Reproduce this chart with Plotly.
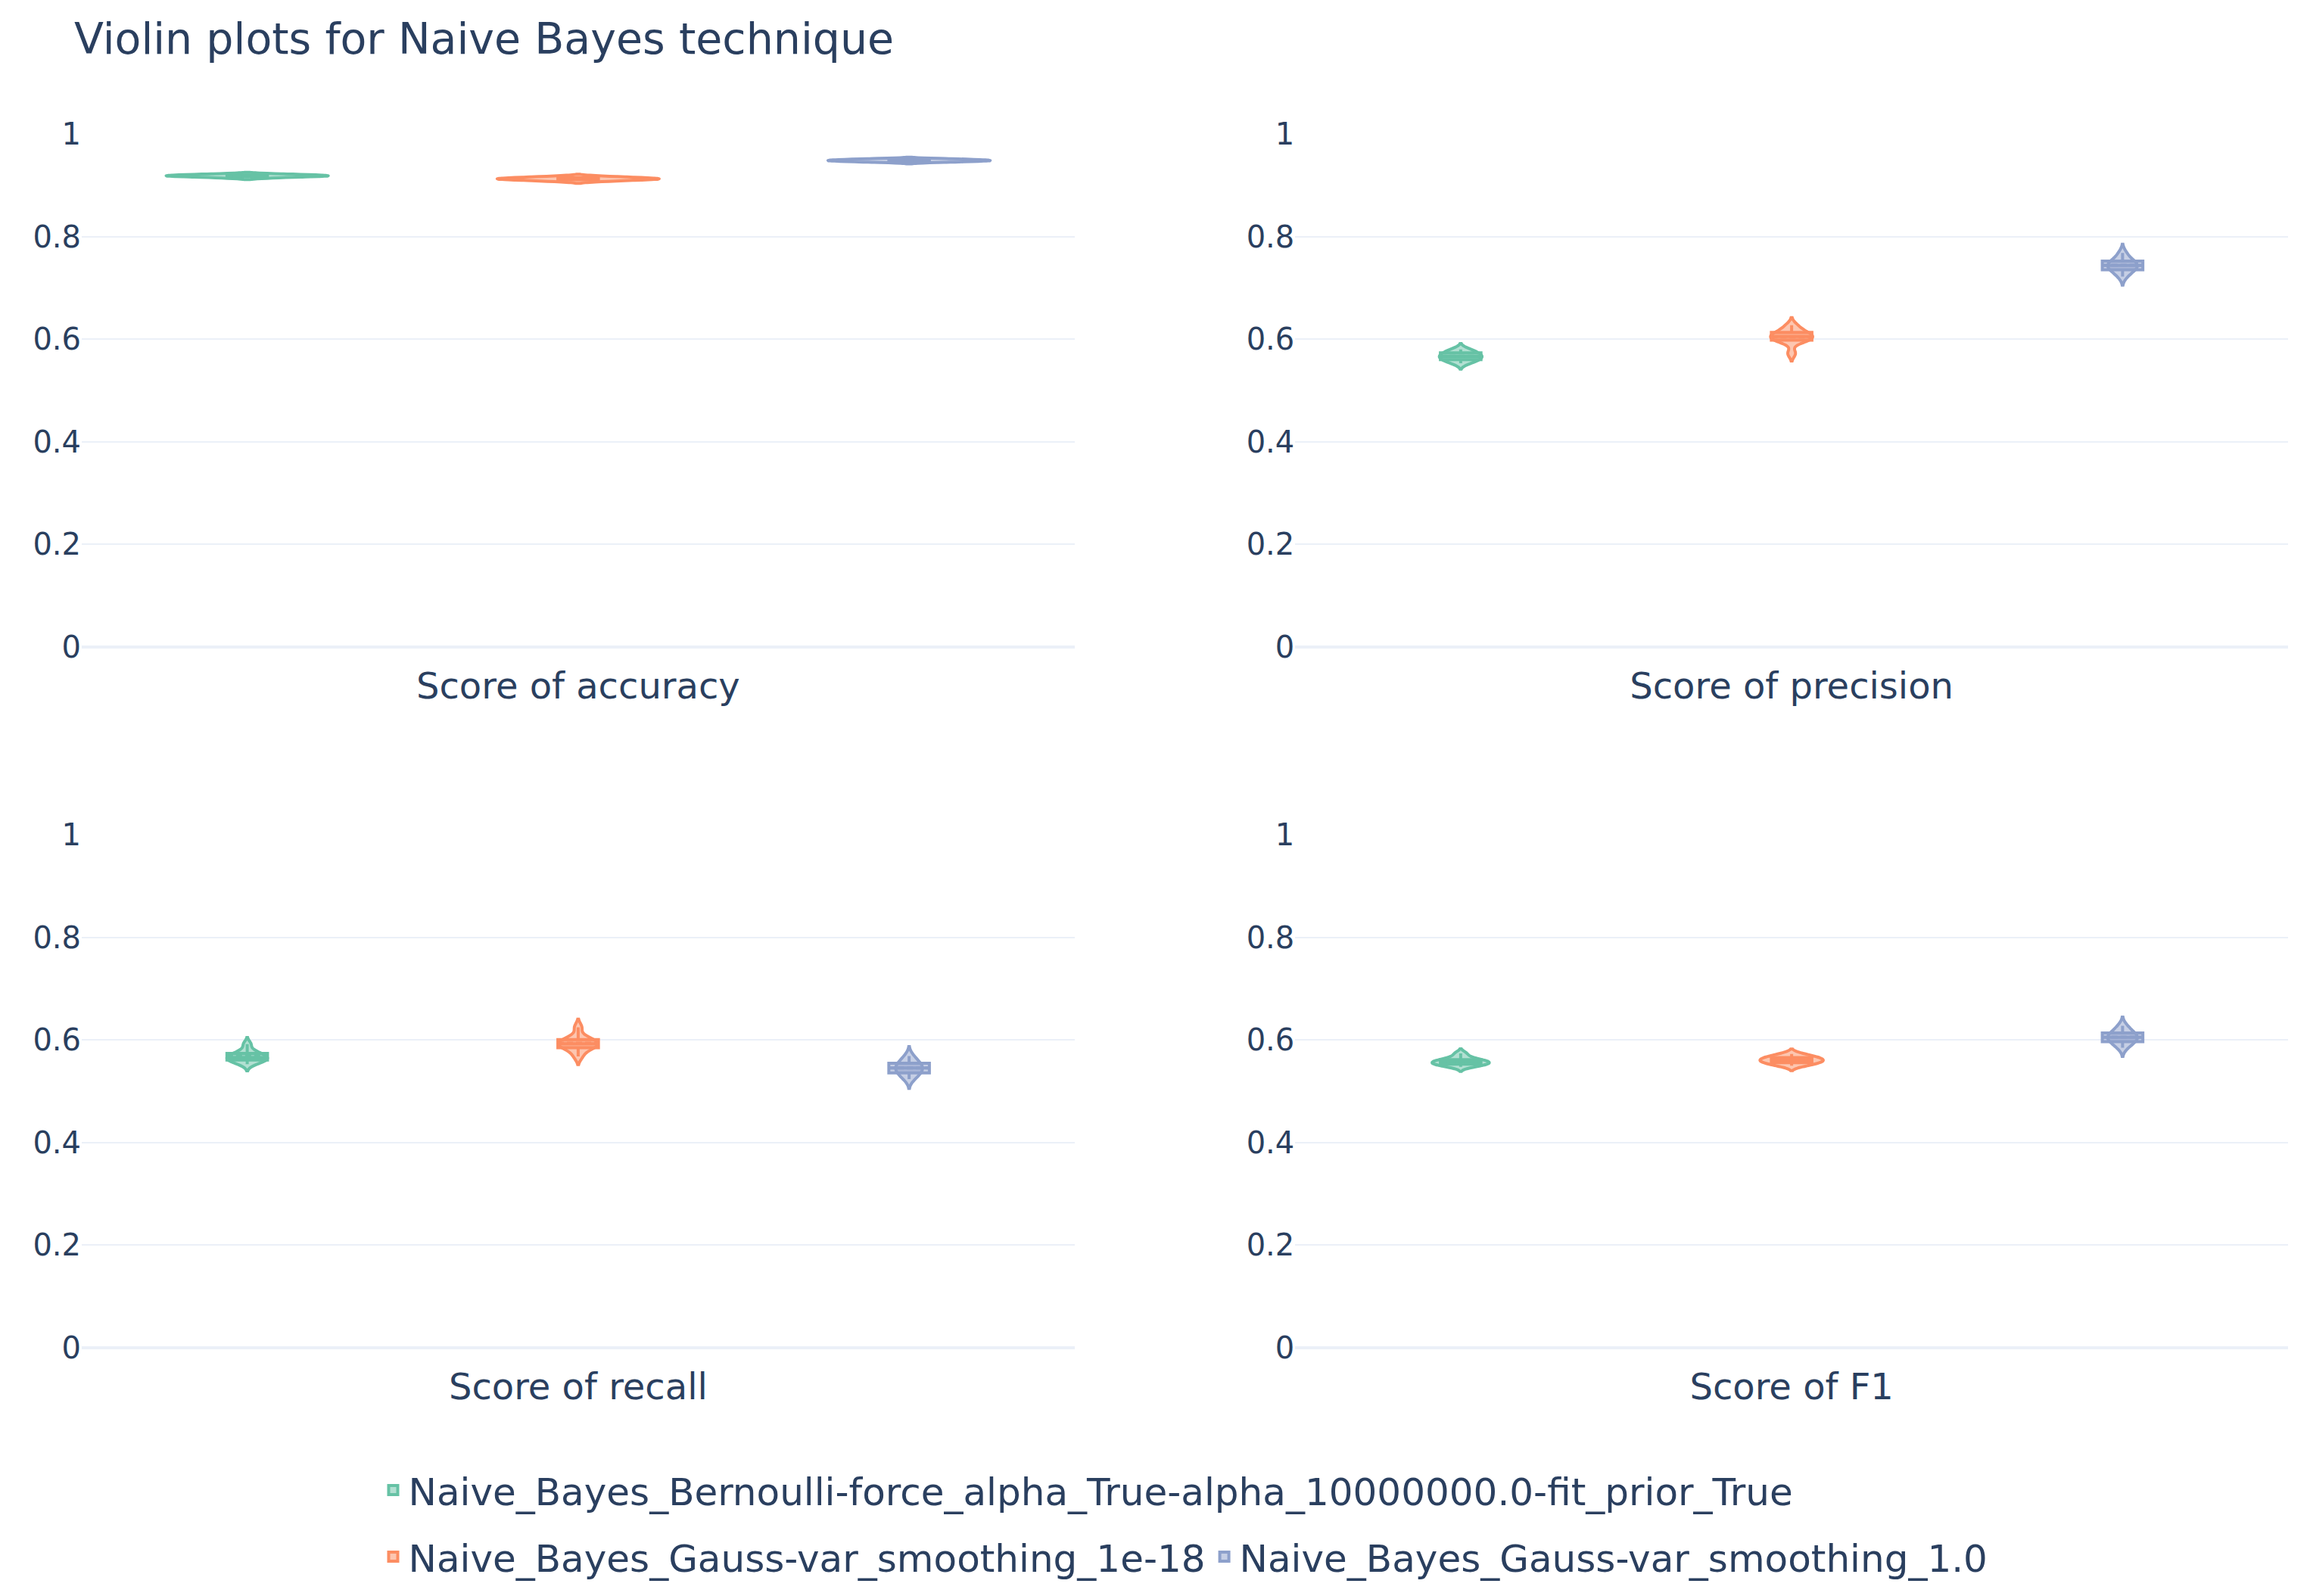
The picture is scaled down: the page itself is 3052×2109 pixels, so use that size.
import plotly.graph_objects as go
from plotly.subplots import make_subplots

# model names (legend)
MODELS = [
    "Naive_Bayes_Bernoulli-force_alpha_True-alpha_10000000.0-fit_prior_True",
    "Naive_Bayes_Gauss-var_smoothing_1e-18",
    "Naive_Bayes_Gauss-var_smoothing_1.0",
]
COLORS = ["#66c2a5", "#fc8d62", "#8da0cb"]

METRICS = ["accuracy", "precision", "recall", "F1"]

# cross-validation scores, one list per model
accuracy_bern = [0.9141, 0.9160, 0.9169, 0.9177, 0.9181, 0.9186, 0.9193, 0.9201, 0.9210, 0.9221]
accuracy_g18 = [0.9077, 0.9094, 0.9107, 0.9116, 0.9122, 0.9127, 0.9136, 0.9146, 0.9157, 0.9174]
accuracy_g1 = [0.9448, 0.9458, 0.9467, 0.9475, 0.9480, 0.9485, 0.9492, 0.9500, 0.9508, 0.9517]

precision_bern = [0.553, 0.557, 0.560, 0.563, 0.565, 0.567, 0.570, 0.573, 0.576, 0.580]
precision_g18 = [0.572, 0.595, 0.598, 0.601, 0.604, 0.606, 0.609, 0.613, 0.618, 0.627]
precision_g1 = [0.722, 0.731, 0.735, 0.739, 0.742, 0.745, 0.748, 0.752, 0.757, 0.768]

recall_bern = [0.553, 0.558, 0.561, 0.563, 0.565, 0.567, 0.570, 0.574, 0.578, 0.592]
recall_g18 = [0.568, 0.581, 0.585, 0.589, 0.592, 0.594, 0.597, 0.601, 0.606, 0.625]
recall_g1 = [0.524, 0.531, 0.536, 0.540, 0.544, 0.547, 0.551, 0.555, 0.560, 0.569]

f1_bern = [0.548, 0.551, 0.553, 0.555, 0.556, 0.558, 0.560, 0.562, 0.566, 0.574]
f1_g18 = [0.550, 0.553, 0.556, 0.558, 0.560, 0.562, 0.564, 0.566, 0.569, 0.573]
f1_g1 = [0.585, 0.593, 0.597, 0.601, 0.604, 0.607, 0.610, 0.614, 0.619, 0.628]

scores = {
    "accuracy": [accuracy_bern, accuracy_g18, accuracy_g1],
    "precision": [precision_bern, precision_g18, precision_g1],
    "recall": [recall_bern, recall_g18, recall_g1],
    "F1": [f1_bern, f1_g18, f1_g1],
}

FONT = "DejaVu Sans"
W, H = 3052, 2109

fig = make_subplots(rows=2, cols=2, horizontal_spacing=0.1, vertical_spacing=0.155)

for k, metric in enumerate(METRICS):
    row, col = k // 2 + 1, k % 2 + 1
    for i, model in enumerate(MODELS):
        fig.add_trace(go.Violin(
            y=scores[metric][i],
            name=model,
            legendgroup=model,
            scalegroup=model,
            showlegend=(k == 0),
            line=dict(color=COLORS[i], width=4),
            box=dict(visible=True, line=dict(width=4)),
            meanline=dict(visible=True, width=4),
            points=False,
        ), row=row, col=col)
    fig.update_xaxes(title=dict(text=f"Score of {metric}", font=dict(size=48), standoff=34),
                     showticklabels=False, row=row, col=col)

fig.update_yaxes(range=[0, 1], dtick=0.2, tickfont=dict(size=40),
                 gridwidth=2, gridcolor="#EBF0F8",
                 zerolinewidth=4, zerolinecolor="#EBF0F8")
fig.update_xaxes(showgrid=False, zeroline=False)

fig.update_layout(
    template="plotly_white",
    width=W, height=H,
    font=dict(family=FONT, size=40, color="#2a3f5f"),
    title=dict(text="Violin plots for Naive Bayes technique", xref="container",
               x=90 / W, xanchor="left", y=1 - 43 / H, yanchor="middle",
               font=dict(size=57)),
    margin=dict(l=100, r=37, t=169, b=336),
    legend=dict(orientation="h", x=0.5, xanchor="center", yref="container",
                y=1 - 1922 / H, yanchor="top", font=dict(size=50),
                tracegroupgap=20),
)

fig.write_html("out.html")
